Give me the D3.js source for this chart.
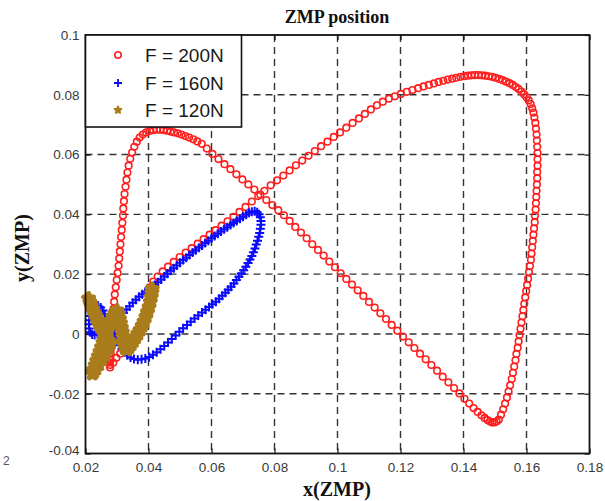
<!DOCTYPE html>
<html>
<head>
<meta charset="utf-8">
<script src="https://cdn.jsdelivr.net/npm/d3@7/dist/d3.min.js"></script>
<style>
  body { margin: 0; background: #fff; }
  svg { display: block; }
</style>
</head>
<body>
<script>
// Axis ticks
const xTicks = [0.02, 0.04, 0.06, 0.08, 0.1, 0.12, 0.14, 0.16, 0.18];
const xTickLabels = ["0.02", "0.04", "0.06", "0.08", "0.1", "0.12", "0.14", "0.16", "0.18"];
const yTicks = [-0.04, -0.02, 0, 0.02, 0.04, 0.06, 0.08, 0.1];
const yTickLabels = ["-0.04", "-0.02", "0", "0.02", "0.04", "0.06", "0.08", "0.1"];
const seriesNames = ["F = 200N", "F = 160N", "F = 120N"];

// ZMP trajectory, F = 200N  [x, y]
const f200 = [
  [0.0278,-0.0112],[0.0278,-0.0104],[0.0278,-0.0096],[0.0279,-0.0087],[0.0279,-0.0077],[0.0280,-0.0064],
  [0.0281,-0.0048],[0.0282,-0.0030],[0.0283,-0.0010],[0.0284,0.0012],[0.0285,0.0036],[0.0287,0.0060],
  [0.0289,0.0084],[0.0291,0.0108],[0.0293,0.0132],[0.0296,0.0156],[0.0299,0.0180],[0.0302,0.0204],
  [0.0305,0.0228],[0.0307,0.0252],[0.0309,0.0276],[0.0311,0.0300],[0.0313,0.0324],[0.0315,0.0348],
  [0.0317,0.0372],[0.0319,0.0396],[0.0320,0.0420],[0.0322,0.0444],[0.0324,0.0468],[0.0327,0.0492],
  [0.0330,0.0516],[0.0333,0.0540],[0.0337,0.0563],[0.0342,0.0586],[0.0348,0.0607],[0.0355,0.0626],
  [0.0363,0.0643],
  [0.0372,0.0657],[0.0382,0.0667],[0.0393,0.0674],[0.0404,0.0679],[0.0415,0.0682],[0.0426,0.0683],
  [0.0437,0.0683],[0.0448,0.0682],[0.0459,0.0680],[0.0470,0.0677],[0.0481,0.0674],[0.0493,0.0671],
  [0.0505,0.0667],[0.0517,0.0662],[0.0529,0.0657],[0.0542,0.0651],[0.0555,0.0644],[0.0569,0.0636],
  [0.0585,0.0620],[0.0603,0.0602],[0.0622,0.0585],[0.0641,0.0568],[0.0660,0.0551],[0.0679,0.0534],
  [0.0698,0.0517],[0.0717,0.0500],[0.0736,0.0483],[0.0755,0.0466],[0.0774,0.0448],[0.0793,0.0431],
  [0.0812,0.0414],[0.0830,0.0397],[0.0848,0.0378],[0.0866,0.0358],[0.0884,0.0339],[0.0902,0.0320],
  [0.0920,0.0300],[0.0938,0.0281],[0.0956,0.0262],[0.0974,0.0242],[0.0992,0.0223],[0.1010,0.0203],
  [0.1028,0.0184],[0.1046,0.0165],[0.1064,0.0146],[0.1082,0.0127],[0.1100,0.0107],[0.1118,0.0088],
  [0.1136,0.0069],[0.1154,0.0050],[0.1172,0.0030],[0.1190,0.0011],[0.1208,-0.0009],[0.1226,-0.0028],
  [0.1244,-0.0047],[0.1262,-0.0066],[0.1280,-0.0085],[0.1298,-0.0104],[0.1316,-0.0123],[0.1334,-0.0143],
  [0.1352,-0.0162],[0.1370,-0.0181],[0.1387,-0.0199],[0.1403,-0.0217],[0.1418,-0.0233],[0.1432,-0.0248],
  [0.1445,-0.0261],[0.1457,-0.0272],[0.1467,-0.0281],[0.1476,-0.0288],[0.1484,-0.0293],[0.1491,-0.0296],
  [0.1498,-0.0296],[0.1505,-0.0293],[0.1512,-0.0287],
  [0.1519,-0.0270],[0.1526,-0.0252],[0.1532,-0.0233],[0.1538,-0.0213],[0.1543,-0.0193],[0.1548,-0.0172],
  [0.1553,-0.0151],[0.1557,-0.0130],[0.1561,-0.0109],[0.1565,-0.0088],[0.1568,-0.0067],[0.1572,-0.0046],
  [0.1575,-0.0025],[0.1578,-0.0004],[0.1581,0.0017],[0.1584,0.0038],[0.1587,0.0059],[0.1590,0.0080],
  [0.1593,0.0101],[0.1596,0.0122],[0.1599,0.0143],[0.1602,0.0164],[0.1605,0.0185],[0.1608,0.0206],
  [0.1611,0.0227],[0.1614,0.0248],[0.1616,0.0269],[0.1618,0.0290],[0.1620,0.0311],[0.1622,0.0332],
  [0.1624,0.0353],[0.1626,0.0374],[0.1627,0.0395],[0.1629,0.0416],[0.1630,0.0437],[0.1631,0.0458],
  [0.1632,0.0479],[0.1633,0.0500],[0.1634,0.0521],[0.1634,0.0542],[0.1635,0.0563],[0.1635,0.0584],
  [0.1635,0.0605],[0.1634,0.0626],[0.1633,0.0647],[0.1632,0.0667],[0.1630,0.0687],[0.1628,0.0706],
  [0.1625,0.0724],[0.1622,0.0740],[0.1618,0.0755],[0.1613,0.0769],
  [0.1607,0.0781],[0.1600,0.0792],[0.1592,0.0802],[0.1584,0.0811],[0.1575,0.0819],[0.1566,0.0826],
  [0.1556,0.0833],[0.1546,0.0839],[0.1535,0.0844],[0.1524,0.0849],[0.1513,0.0853],[0.1502,0.0857],
  [0.1491,0.0860],[0.1480,0.0862],[0.1469,0.0864],[0.1458,0.0865],[0.1447,0.0866],[0.1436,0.0866],
  [0.1425,0.0865],[0.1414,0.0864],[0.1402,0.0862],[0.1390,0.0860],[0.1377,0.0857],[0.1364,0.0854],
  [0.1350,0.0851],[0.1336,0.0847],[0.1321,0.0843],[0.1306,0.0838],[0.1290,0.0833],[0.1273,0.0828],
  [0.1256,0.0822],[0.1238,0.0816],[0.1220,0.0810],[0.1201,0.0803],
  [0.1182,0.0795],[0.1163,0.0787],[0.1144,0.0777],[0.1125,0.0765],[0.1106,0.0751],[0.1087,0.0736],
  [0.1068,0.0721],[0.1048,0.0706],[0.1028,0.0690],[0.1008,0.0674],[0.0988,0.0659],[0.0968,0.0643],
  [0.0948,0.0628],[0.0928,0.0612],[0.0908,0.0596],[0.0888,0.0580],[0.0868,0.0564],[0.0848,0.0547],
  [0.0828,0.0530],[0.0808,0.0514],[0.0788,0.0497],[0.0768,0.0479],[0.0748,0.0461],[0.0728,0.0443],
  [0.0708,0.0425],[0.0689,0.0408],[0.0670,0.0392],[0.0651,0.0377],[0.0632,0.0362],[0.0613,0.0347],
  [0.0594,0.0332],[0.0575,0.0317],[0.0556,0.0302],[0.0537,0.0287],[0.0518,0.0272],[0.0499,0.0257],
  [0.0480,0.0241],[0.0462,0.0225],[0.0445,0.0209],[0.0429,0.0192],[0.0415,0.0175],[0.0404,0.0156],
  [0.0404,0.0135],[0.0399,0.0110],[0.0393,0.0085],[0.0386,0.0062],[0.0378,0.0040],[0.0369,0.0018],
  [0.0359,-0.0003],[0.0348,-0.0022],[0.0336,-0.0040],[0.0324,-0.0054],[0.0310,-0.0066],[0.0298,-0.0080],
  [0.0288,-0.0096]
];

// ZMP trajectory, F = 160N  [x, y]
const f160 = [
  [0.0297,-0.0012],[0.0291,0.0001],[0.0285,0.0014],[0.0279,0.0027],[0.0273,0.0040],[0.0267,0.0053],
  [0.0261,0.0066],[0.0255,0.0078],[0.0248,0.0088],[0.0240,0.0094],[0.0232,0.0092],[0.0225,0.0084],
  [0.0219,0.0073],[0.0215,0.0060],[0.0212,0.0046],[0.0211,0.0032],[0.0212,0.0018],[0.0215,0.0006],
  [0.0221,-0.0002],[0.0229,-0.0004],[0.0238,0.0000],[0.0247,0.0006],[0.0256,0.0013],[0.0265,0.0020],
  [0.0274,0.0027],[0.0283,0.0034],[0.0292,0.0040],
  [0.0300,0.0045],[0.0310,0.0058],[0.0320,0.0070],[0.0330,0.0082],[0.0340,0.0093],[0.0350,0.0104],
  [0.0360,0.0114],[0.0370,0.0124],[0.0380,0.0133],[0.0390,0.0141],[0.0400,0.0148],[0.0410,0.0155],
  [0.0420,0.0164],[0.0430,0.0173],[0.0440,0.0182],[0.0450,0.0192],[0.0460,0.0201],[0.0470,0.0211],
  [0.0480,0.0220],[0.0490,0.0229],[0.0500,0.0238],[0.0510,0.0247],[0.0520,0.0255],[0.0530,0.0264],
  [0.0540,0.0272],[0.0550,0.0280],[0.0560,0.0288],[0.0570,0.0296],[0.0580,0.0304],[0.0590,0.0312],
  [0.0600,0.0320],[0.0610,0.0328],[0.0620,0.0335],[0.0630,0.0343],[0.0640,0.0350],[0.0650,0.0357],
  [0.0660,0.0364],[0.0670,0.0371],[0.0680,0.0378],[0.0690,0.0385],[0.0700,0.0392],[0.0710,0.0399],
  [0.0719,0.0405],[0.0728,0.0409],[0.0737,0.0410],[0.0745,0.0407],[0.0751,0.0400],[0.0755,0.0390],
  [0.0757,0.0378],[0.0757,0.0365],[0.0755,0.0352],
  [0.0753,0.0338],[0.0750,0.0325],[0.0746,0.0312],[0.0742,0.0299],[0.0738,0.0286],[0.0733,0.0273],
  [0.0728,0.0261],[0.0722,0.0249],[0.0716,0.0237],[0.0709,0.0225],[0.0702,0.0213],[0.0695,0.0202],
  [0.0687,0.0191],[0.0679,0.0180],[0.0671,0.0169],[0.0662,0.0158],[0.0653,0.0148],[0.0644,0.0138],
  [0.0634,0.0128],[0.0624,0.0118],[0.0614,0.0108],[0.0603,0.0099],[0.0592,0.0090],[0.0581,0.0081],
  [0.0570,0.0072],[0.0558,0.0062],[0.0546,0.0052],[0.0534,0.0041],[0.0522,0.0030],[0.0510,0.0019],
  [0.0498,0.0007],[0.0486,-0.0005],[0.0474,-0.0017],[0.0462,-0.0029],[0.0450,-0.0040],[0.0438,-0.0051],
  [0.0426,-0.0061],[0.0414,-0.0070],[0.0402,-0.0077],[0.0390,-0.0082],[0.0378,-0.0085],[0.0366,-0.0086],
  [0.0354,-0.0084],[0.0343,-0.0079],[0.0333,-0.0071],[0.0324,-0.0061],[0.0316,-0.0050],[0.0309,-0.0038],
  [0.0303,-0.0025]
];

// ZMP trajectory, F = 120N  [x, y]
const f120 = [
  [0.0210,0.0118],[0.0214,0.0106],[0.0218,0.0094],[0.0223,0.0082],[0.0228,0.0070],[0.0233,0.0058],
  [0.0238,0.0046],[0.0243,0.0034],[0.0249,0.0022],[0.0255,0.0010],[0.0261,-0.0002],[0.0267,-0.0013],
  [0.0273,-0.0023],[0.0279,-0.0032],
  [0.0272,-0.0050],[0.0262,-0.0068],[0.0252,-0.0086],[0.0242,-0.0102],[0.0233,-0.0116],[0.0226,-0.0127],
  [0.0222,-0.0133],
  [0.0226,-0.0120],[0.0231,-0.0105],[0.0236,-0.0090],[0.0241,-0.0075],[0.0246,-0.0060],[0.0251,-0.0045],
  [0.0256,-0.0030],[0.0261,-0.0015],[0.0266,0.0000],[0.0271,0.0015],[0.0276,0.0030],[0.0282,0.0044],
  [0.0288,0.0058],[0.0294,0.0070],[0.0300,0.0078],
  [0.0304,0.0065],[0.0308,0.0050],[0.0311,0.0035],[0.0314,0.0020],[0.0317,0.0005],[0.0319,-0.0010],
  [0.0321,-0.0025],[0.0323,-0.0038],[0.0326,-0.0048],[0.0331,-0.0052],
  [0.0338,-0.0045],[0.0345,-0.0035],[0.0352,-0.0024],[0.0359,-0.0012],[0.0366,0.0000],[0.0373,0.0013],
  [0.0380,0.0027],[0.0386,0.0041],[0.0392,0.0057],[0.0397,0.0073],[0.0402,0.0090],[0.0406,0.0107],
  [0.0409,0.0123],[0.0411,0.0138],[0.0412,0.0150]
];

const W = 605, H = 501;
const plot = { left: 85.5, right: 589.5, top: 35, bottom: 453.5 };

const x = d3.scaleLinear().domain([0.02, 0.18]).range([plot.left, plot.right]);
const y = d3.scaleLinear().domain([-0.04, 0.1]).range([plot.bottom, plot.top]);

const svg = d3.select("body").append("svg")
  .attr("width", W).attr("height", H)
  .attr("viewBox", `0 0 ${W} ${H}`);

svg.append("rect").attr("width", W).attr("height", H).attr("fill", "#fff");

// dashed grid
const grid = svg.append("g")
  .attr("stroke", "#333").attr("stroke-width", 1.4)
  .attr("stroke-dasharray", "7,5");
grid.selectAll("line.gx")
  .data(xTicks.slice(1, -1))
  .join("line").attr("class", "gx")
  .attr("x1", d => x(d)).attr("x2", d => x(d))
  .attr("y1", plot.top).attr("y2", plot.bottom);
grid.selectAll("line.gy")
  .data(yTicks.slice(1, -1))
  .join("line").attr("class", "gy")
  .attr("x1", plot.left).attr("x2", plot.right)
  .attr("y1", d => y(d)).attr("y2", d => y(d));

// axes: inward ticks on all four sides
const fontTicks = "'Liberation Sans', Arial, sans-serif";
const xAxis = svg.append("g")
  .attr("transform", `translate(0,${plot.bottom})`)
  .call(d3.axisBottom(x).tickValues(xTicks)
    .tickFormat((d, i) => xTickLabels[i])
    .tickSize(-5).tickSizeOuter(0).tickPadding(6));
xAxis.select(".domain").remove();
xAxis.selectAll("text").attr("dy", "0.95em");

const yAxis = svg.append("g")
  .attr("transform", `translate(${plot.left},0)`)
  .call(d3.axisLeft(y).tickValues(yTicks)
    .tickFormat((d, i) => yTickLabels[i])
    .tickSize(-5).tickSizeOuter(0).tickPadding(6));
yAxis.select(".domain").remove();

svg.append("g").attr("transform", `translate(0,${plot.top})`)
  .call(d3.axisTop(x).tickValues(xTicks).tickFormat("").tickSize(-5).tickSizeOuter(0))
  .select(".domain").remove();
svg.append("g").attr("transform", `translate(${plot.right},0)`)
  .call(d3.axisRight(y).tickValues(yTicks).tickFormat("").tickSize(-5).tickSizeOuter(0))
  .select(".domain").remove();

svg.selectAll(".tick line").attr("stroke", "#111").attr("stroke-width", 1.2);
svg.selectAll(".tick text")
  .attr("font-family", fontTicks).attr("font-size", 13.5)
  .attr("fill", "#3a3a3a");
yAxis.selectAll(".tick text").attr("dy", "0.32em");
// the lowest y label sits slightly higher
yAxis.selectAll(".tick text").filter(d => d === -0.04).attr("dy", "0.05em");

// series markers
const red = "#ff1e1e", blue = "#0a0aff", gold = "#a97c1c";

svg.append("g").selectAll("circle")
  .data(f200).join("circle")
  .attr("cx", d => x(d[0])).attr("cy", d => y(d[1]))
  .attr("r", 3.3)
  .attr("fill", "none").attr("stroke", red).attr("stroke-width", 1.6);

const plusPath = "M-4.5,0H4.5M0,-4.5V4.5";
svg.append("g").selectAll("path")
  .data(f160).join("path")
  .attr("transform", d => `translate(${x(d[0])},${y(d[1])})`)
  .attr("d", plusPath)
  .attr("fill", "none").attr("stroke", blue).attr("stroke-width", 2);

const star = d3.symbol(d3.symbolStar, 30)();
svg.append("g").selectAll("path")
  .data(f120).join("path")
  .attr("transform", d => `translate(${x(d[0])},${y(d[1])})`)
  .attr("d", star)
  .attr("fill", gold).attr("stroke", gold).attr("stroke-width", 5)
  .attr("stroke-linejoin", "round");

// axes box
svg.append("rect")
  .attr("x", plot.left).attr("y", plot.top)
  .attr("width", plot.right - plot.left).attr("height", plot.bottom - plot.top)
  .attr("fill", "none").attr("stroke", "#111").attr("stroke-width", 1.8);

// legend
const leg = svg.append("g");
leg.append("rect")
  .attr("x", plot.left).attr("y", plot.top)
  .attr("width", 156).attr("height", 92)
  .attr("fill", "#fff").attr("stroke", "#111").attr("stroke-width", 1.6);
const rows = [55, 83, 110];
leg.append("circle").attr("cx", 118).attr("cy", rows[0]).attr("r", 3.2)
  .attr("fill", "none").attr("stroke", red).attr("stroke-width", 1.6);
leg.append("path").attr("transform", `translate(118,${rows[1]})`).attr("d", "M-4,0H4M0,-4V4")
  .attr("fill", "none").attr("stroke", blue).attr("stroke-width", 1.8);
leg.append("path").attr("transform", `translate(118,${rows[2]})`).attr("d", d3.symbol(d3.symbolStar, 14)())
  .attr("fill", gold).attr("stroke", gold).attr("stroke-width", 2)
  .attr("stroke-linejoin", "round");
leg.selectAll("text").data(seriesNames).join("text")
  .attr("x", 145).attr("y", (d, i) => rows[i] + 7)
  .attr("font-family", fontTicks).attr("font-size", 19)
  .attr("fill", "#1a1a1a")
  .text(d => d);

// titles
const serif = "'Liberation Serif', 'Times New Roman', serif";
svg.append("text").attr("x", 337).attr("y", 23)
  .attr("text-anchor", "middle")
  .attr("font-family", serif).attr("font-weight", "bold").attr("font-size", 18)
  .attr("fill", "#111").text("ZMP position");
svg.append("text").attr("x", 337).attr("y", 496)
  .attr("text-anchor", "middle")
  .attr("font-family", serif).attr("font-weight", "bold").attr("font-size", 20)
  .attr("fill", "#111").text("x(ZMP)");
svg.append("text").attr("transform", "translate(29,248) rotate(-90)")
  .attr("text-anchor", "middle")
  .attr("font-family", serif).attr("font-weight", "bold").attr("font-size", 20)
  .attr("fill", "#111").text("y(ZMP)");

// stray tick label at the far left edge
svg.append("text").attr("x", 3).attr("y", 465)
  .attr("font-family", fontTicks).attr("font-size", 12)
  .attr("fill", "#555").text("2");
</script>
</body>
</html>
